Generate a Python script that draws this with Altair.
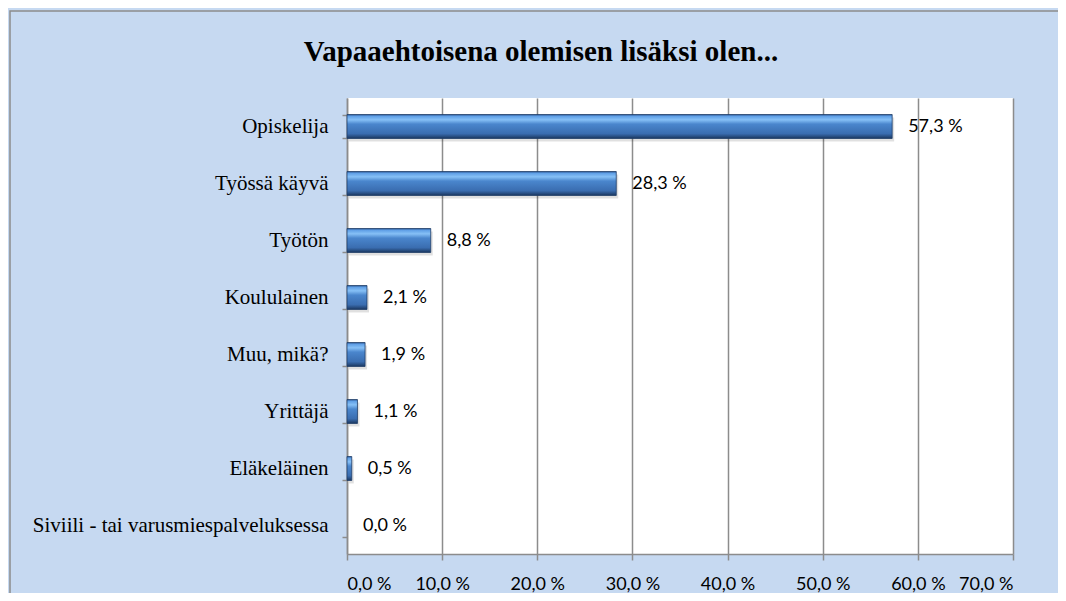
import altair as alt
import pandas as pd

categories = ["Opiskelija", "Työssä käyvä", "Työtön", "Koululainen", "Muu, mikä?",
              "Yrittäjä", "Eläkeläinen", "Siviili - tai varusmiespalveluksessa"]
values = [57.3, 28.3, 8.8, 2.1, 1.9, 1.1, 0.5, 0.0]
x_ticks = [0, 10, 20, 30, 40, 50, 60, 70]
title_text = "Vapaaehtoisena olemisen lisäksi olen..."

df = pd.DataFrame({
    "cat": categories,
    "val": values,
    "label": [f"{v:.1f}".replace(".", ",") + " %" for v in values],
})

W, H = 666, 456
PL, PT = 339, 90
PR = 1050 - PL - W
PB = 585 - PT - H
GRAY = "#8C8C8C"

grad = alt.Gradient(
    gradient="linear", x1=0, y1=0, x2=0, y2=1,
    stops=[
        alt.GradientStop(offset=0, color="#2A5590"),
        alt.GradientStop(offset=0.07, color="#5F9FE6"),
        alt.GradientStop(offset=0.22, color="#86C0F6"),
        alt.GradientStop(offset=0.4, color="#4A86CD"),
        alt.GradientStop(offset=0.8, color="#3A6DB0"),
        alt.GradientStop(offset=1, color="#1B375F"),
    ],
)

x = alt.X(
    "val:Q",
    scale=alt.Scale(domain=[0, 70], nice=False, zero=True),
    axis=alt.Axis(
        values=x_ticks, title=None,
        labelExpr="replace(format(datum.value, '.1f'), '.', ',') + ' %'",
        grid=True, gridColor=GRAY, gridWidth=1.5,
        tickColor=GRAY, tickSize=6, tickWidth=1.5,
        domainColor=GRAY, domainWidth=1.5,
        labelFont="Lato", labelFontSize=18, labelColor="#000", labelPadding=15,
    ),
)
y = alt.Y(
    "cat:N", sort=categories,
    scale=alt.Scale(paddingInner=0.58, paddingOuter=0.29),
    axis=alt.Axis(
        title=None, tickBand="extent", grid=False,
        tickColor=GRAY, tickSize=5, tickWidth=1.5,
        domainColor=GRAY, domainWidth=1.5,
        labelFont="Liberation Serif", labelFontSize=21, labelColor="#000",
        labelPadding=14, labelLimit=400,
    ),
)

nonzero = alt.condition("datum.val > 0", alt.value(1), alt.value(0))

base = alt.Chart(df)
shadow = base.mark_bar(fill="#000000", yOffset=3, xOffset=2).encode(
    x=x, y=y,
    opacity=alt.condition("datum.val > 0", alt.value(0.12), alt.value(0)),
)
bars = base.mark_bar(fill=grad, stroke="#1F3D68", strokeWidth=0.8).encode(
    x=x, y=y, strokeOpacity=nonzero,
)
texts = base.mark_text(align="left", baseline="middle", dx=16, font="Lato",
                       fontSize=18, color="#000").encode(x=x, y=y, text="label")

border = alt.Chart(pd.DataFrame({"a": [0]})).mark_rect(
    fill="transparent", stroke=GRAY, strokeWidth=1.5
).encode(
    x=alt.value(-337), x2=alt.value(W + 100),
    y=alt.value(-87), y2=alt.value(H + 100),
)

chart = alt.layer(shadow, bars, texts, border).properties(
    width=W, height=H,
    padding={"left": PL, "top": PT, "right": PR, "bottom": PB},
    autosize=alt.AutoSizeParams(type="none"),
    background="#C6D9F1",
    title=alt.Title(title_text, font="Liberation Serif", fontSize=29,
                    fontWeight="bold", color="#000", anchor="middle",
                    frame="group", dx=-139, offset=-57),
).configure_view(fill="white", strokeWidth=0)

chart.save("out.html", embed_options={"renderer": "svg", "actions": False})
